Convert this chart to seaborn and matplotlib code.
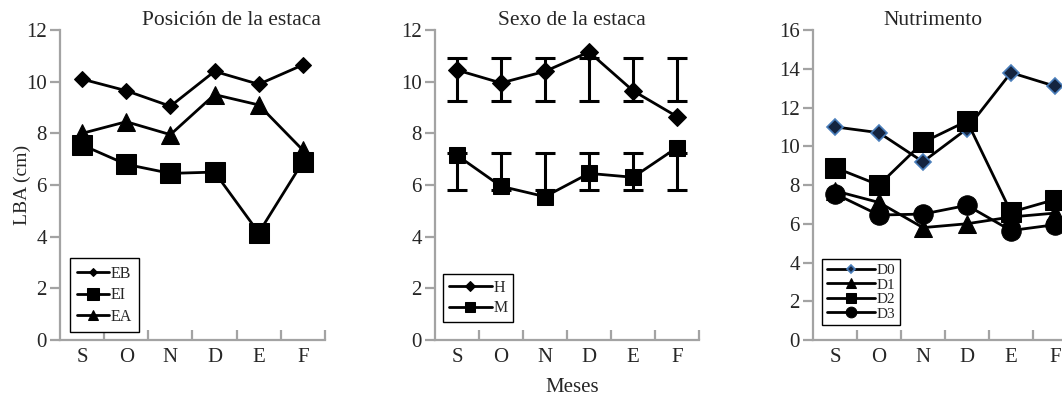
import numpy as np
import pandas as pd
import seaborn as sns
import matplotlib.pyplot as plt

sns.set_style('ticks')
plt.rcParams['font.family'] = ['Liberation Serif', 'DejaVu Serif']

meses = ['S', 'O', 'N', 'D', 'E', 'F']

# Posicion de la estaca
eb = [10.1, 9.65, 9.05, 10.4, 9.9, 10.65]
ei = [7.55, 6.8, 6.45, 6.5, 4.15, 6.9]
ea = [8.0, 8.45, 7.95, 9.5, 9.1, 7.35]

# Sexo de la estaca
h = [10.45, 9.95, 10.4, 11.15, 9.65, 8.65]
h_lo = [9.25, 9.25, 9.25, 9.25, 9.25, 9.25]
h_hi = [10.9, 10.9, 10.9, 10.9, 10.9, 10.9]
m = [7.15, 5.95, 5.55, 6.45, 6.3, 7.45]
m_lo = [5.8, 5.8, 5.8, 5.8, 5.8, 5.8]
m_hi = [7.25, 7.25, 7.25, 7.25, 7.25, 7.25]

# Nutrimento
d0 = [11.0, 10.7, 9.2, 10.9, 13.8, 13.1]
d1 = [7.7, 7.1, 5.8, 6.0, 6.35, 6.55]
d2 = [8.9, 8.0, 10.2, 11.3, 6.6, 7.25]
d3 = [7.55, 6.45, 6.5, 6.95, 5.65, 5.95]

gray = '#a3a3a3'
fig = plt.figure(figsize=(10.62, 3.96), dpi=100)
ax1 = fig.add_axes([0.0565, 0.1414, 0.2495, 0.7828])
ax2 = fig.add_axes([0.4096, 0.1414, 0.2486, 0.7828])
ax3 = fig.add_axes([0.7655, 0.1414, 0.2486, 0.7828])


def style_axis(ax, ymax, title, tx):
    ax.set_xlim(-0.5, 5.5)
    ax.set_ylim(0, ymax)
    ax.set_yticks(np.arange(0, ymax + 1, 2))
    ax.set_xticks(np.arange(6) + 0.5, minor=True)
    sns.despine(ax=ax)
    for s in ['left', 'bottom']:
        ax.spines[s].set_color(gray)
        ax.spines[s].set_linewidth(1.6)
    ax.tick_params(axis='x', which='major', length=0, pad=6, labelsize=15)
    ax.tick_params(axis='x', which='minor', direction='in', length=7,
                   width=1.6, color=gray)
    ax.tick_params(axis='y', length=7, width=1.6, color=gray, pad=2.5,
                   labelsize=15)
    ax.set_xlabel('')
    ax.set_ylabel('')
    ax.text(tx, 1.03, title, transform=ax.transAxes, ha='center',
            va='center', fontsize=15.5)


def leg(ax, anchor, fs, hl, sp, ms, bp=0.35):
    ax.legend(loc='lower left', bbox_to_anchor=anchor, borderaxespad=0,
              fontsize=fs, handlelength=hl, handletextpad=0.1,
              labelspacing=sp, borderpad=bp, markerscale=ms,
              fancybox=False, framealpha=1, edgecolor='black')
    ax.get_legend().get_frame().set_linewidth(1.0)


lw = 2.0
# panel 1
sns.lineplot(x=meses, y=eb, ax=ax1, color='black', lw=lw, marker='D',
             markersize=8, mec='black', label='EB')
sns.lineplot(x=meses, y=ei, ax=ax1, color='black', lw=lw, marker='s',
             markersize=15, mec='black', label='EI')
sns.lineplot(x=meses, y=ea, ax=ax1, color='black', lw=lw, marker='^',
             markersize=13, mec='black', label='EA')
style_axis(ax1, 12, 'Posición de la estaca', 0.648)
ax1.set_ylabel('LBA (cm)', fontsize=14)
ax1.yaxis.set_label_coords(-0.108, 0.5)
leg(ax1, (0.038, 0.026), 11.5, 2.0, 0.35, 0.55, 0.45)

# panel 2
for vals, lo, hi in [(h, h_lo, h_hi), (m, m_lo, m_hi)]:
    lo = np.array(lo)
    hi = np.array(hi)
    ax2.errorbar(meses, (lo + hi) / 2, yerr=(hi - lo) / 2, fmt='none',
                 ecolor='black', elinewidth=2.2, capsize=7, capthick=2.2)
sns.lineplot(x=meses, y=h, ax=ax2, color='black', lw=lw, marker='D',
             markersize=9, mec='black', label='H')
sns.lineplot(x=meses, y=m, ax=ax2, color='black', lw=lw, marker='s',
             markersize=11, mec='black', label='M')
style_axis(ax2, 12, 'Sexo de la estaca', 0.518)
leg(ax2, (0.03, 0.058), 11.5, 2.7, 0.3, 0.6)

# panel 3
sns.lineplot(x=meses, y=d0, ax=ax3, color='black', lw=lw, marker='D',
             markersize=8, mfc='#14243f', mec='#4a7ebb', mew=1.2, label='D0')
sns.lineplot(x=meses, y=d1, ax=ax3, color='black', lw=lw, marker='^',
             markersize=13, mec='black', label='D1')
sns.lineplot(x=meses, y=d2, ax=ax3, color='black', lw=lw, marker='s',
             markersize=14, mec='black', label='D2')
sns.lineplot(x=meses, y=d3, ax=ax3, color='black', lw=lw, marker='o',
             markersize=14, mec='black', label='D3')
style_axis(ax3, 16, 'Nutrimento', 0.455)
leg(ax3, (0.034, 0.048), 11, 3.2, 0.05, 0.55, 0.3)

fig.text(572 / 1062, 1 - 388 / 396, 'Meses', ha='center', va='center',
         fontsize=15)

fig.savefig('out.png', dpi=100)
